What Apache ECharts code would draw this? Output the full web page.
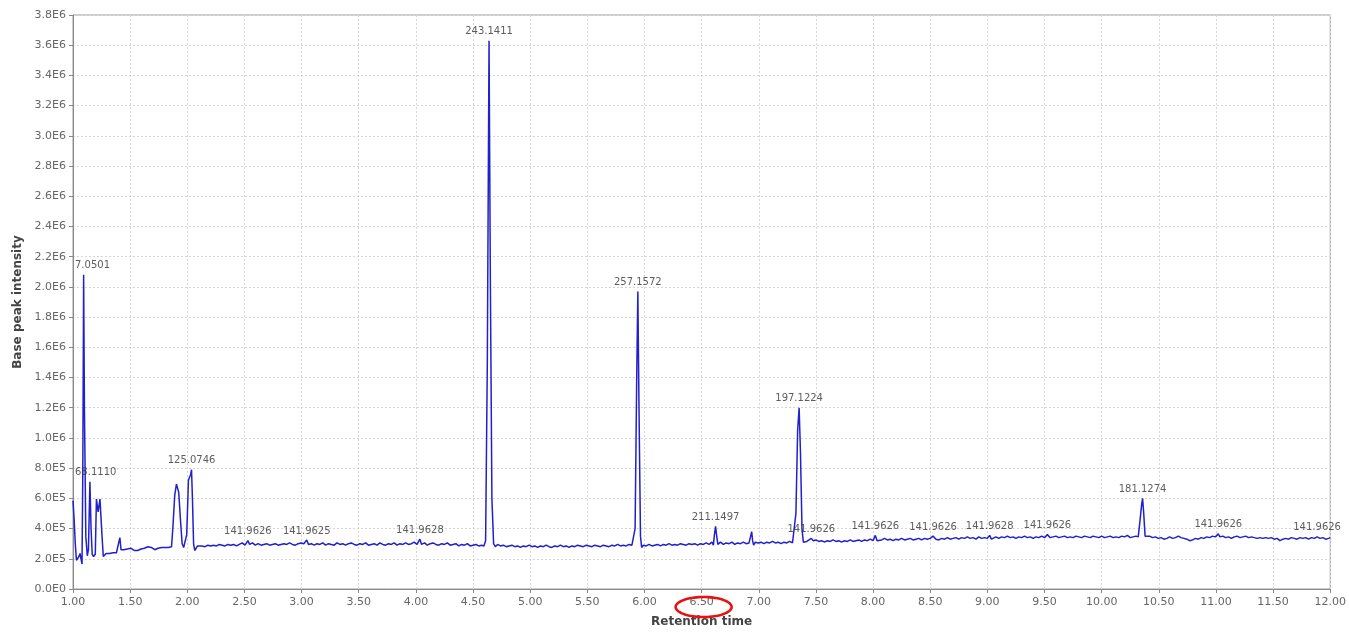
<!DOCTYPE html>
<html>
<head>
<meta charset="utf-8">
<script src="https://cdn.jsdelivr.net/npm/echarts@6/dist/echarts.min.js"></script>
<style>html,body{margin:0;padding:0;background:#fff;}#c{width:1349px;height:633px;}</style>
</head>
<body>
<div id="c"></div>
<script>
// Retention time (min) and base peak intensity (in units of 1E5)
const segEarly = [
[1.000,5.85],[1.010,4.6],[1.020,3.0],[1.030,1.9],[1.045,1.85],[1.055,2.2],[1.062,2.35],[1.070,2.0],[1.079,1.65],[1.086,8.0],
[1.093,20.8],[1.100,12.0],[1.112,3.5],[1.125,2.2],[1.135,2.6],[1.148,7.1],[1.158,4.0],[1.168,2.3],[1.180,2.15],[1.195,2.3],
[1.205,5.95],[1.212,6.0],[1.220,5.1],[1.228,5.0],[1.236,5.95],[1.244,6.0],[1.254,3.5],[1.265,2.15],[1.275,2.25],[1.290,2.35],
[1.305,2.4],[1.320,2.35],[1.335,2.45],[1.350,2.4],[1.365,2.45],[1.380,2.4],[1.395,2.5],[1.410,3.4],[1.420,2.6],[1.430,2.5],
[1.445,2.6],[1.460,2.55],[1.475,2.65],[1.490,2.55],[1.505,2.7],[1.520,2.6],[1.535,2.55],[1.550,2.6],[1.565,2.55],[1.580,2.6],
[1.595,2.65],[1.610,2.6],[1.625,2.7],[1.640,2.75],[1.655,2.8],[1.670,2.85],[1.685,2.75],[1.700,2.7],[1.715,2.6],[1.730,2.55],
[1.745,2.7],[1.760,2.65],[1.775,2.75],[1.790,2.7],[1.805,2.75],[1.820,2.65],[1.835,2.75],[1.850,2.7],[1.862,2.8],[1.875,4.2],
[1.890,6.2],[1.905,6.95],[1.915,6.95],[1.925,6.4],[1.940,4.6],[1.955,3.0],[1.968,2.75],[1.980,2.8],[1.995,3.6],[2.010,7.2],
[2.020,7.4],[2.030,7.6],[2.037,7.9],[2.045,6.0],[2.055,3.0],[2.065,2.55],[2.075,2.6],[2.090,2.85]
];
const segMid = [
[2.105,2.8],[2.130,2.85],[2.155,2.8],[2.180,2.9],[2.205,2.85],[2.230,2.9],[2.255,2.85],[2.280,2.95],[2.305,2.9],[2.330,2.85],
[2.355,2.95],[2.380,2.9],[2.405,2.95],[2.430,2.85],[2.455,2.95],[2.480,3.05],[2.505,2.9],[2.530,3.2],[2.545,2.95],[2.570,3.05],
[2.595,2.9],[2.620,3.0],[2.645,2.9],[2.670,2.95],[2.695,3.0],[2.720,2.9],[2.745,2.95],[2.770,3.0],[2.795,2.9],[2.820,2.95],
[2.845,3.0],[2.870,2.95],[2.895,3.05],[2.920,2.95],[2.945,2.9],[2.970,3.0],[2.995,3.05],[3.020,3.0],[3.045,3.25],[3.060,2.95],
[3.085,3.0],[3.110,2.9],[3.135,3.0],[3.160,2.95],[3.185,3.05],[3.210,2.9],[3.235,3.0],[3.260,2.95],[3.285,2.9],[3.310,3.05],
[3.335,2.95],[3.360,3.0],[3.385,2.9],[3.410,3.0],[3.435,3.05],[3.460,2.95],[3.485,2.9],[3.510,3.0],[3.535,2.95],[3.560,3.05],
[3.585,2.9],[3.610,2.95],[3.635,3.0],[3.660,2.9],[3.685,3.05],[3.710,2.95],[3.735,2.9],[3.760,3.0],[3.785,2.95],[3.810,3.05],
[3.835,2.9],[3.860,3.0],[3.885,2.95],[3.910,3.05],[3.935,2.95],[3.960,3.0],[3.985,3.1],[4.010,2.95],[4.035,3.3],[4.050,2.95],
[4.075,3.05],[4.100,2.9],[4.125,3.0],[4.150,3.05],[4.175,2.95],[4.200,2.9],[4.225,3.0],[4.250,2.95],[4.275,3.05],[4.300,2.9],
[4.325,2.95],[4.350,3.0],[4.375,2.85],[4.400,2.95],[4.425,2.9],[4.450,3.0],[4.475,2.85],[4.500,2.9],[4.525,2.95],[4.550,2.85],
[4.575,2.9],[4.595,2.85],[4.610,3.2],[4.625,15.0],[4.640,36.3],[4.652,20.0],[4.665,6.0],[4.680,3.0],[4.695,2.8],[4.715,2.95],
[4.740,2.85],[4.765,2.9],[4.790,2.8],[4.815,2.85],[4.840,2.9],[4.865,2.8],[4.890,2.85],[4.915,2.75],[4.940,2.85],[4.965,2.8],
[4.990,2.9],[5.015,2.8],[5.040,2.85],[5.065,2.75],[5.090,2.85],[5.115,2.8],[5.140,2.9],[5.165,2.8],[5.190,2.75],[5.215,2.85],
[5.240,2.8],[5.265,2.9],[5.290,2.8],[5.315,2.85],[5.340,2.75],[5.365,2.85],[5.390,2.8],[5.415,2.9],[5.440,2.85],[5.465,2.8],
[5.490,2.9],[5.515,2.85],[5.540,2.8],[5.565,2.9],[5.590,2.85],[5.615,2.8],[5.640,2.9],[5.665,2.85],[5.690,2.8],[5.715,2.9],
[5.740,2.85],[5.765,2.95],[5.790,2.85],[5.815,2.9],[5.840,2.85],[5.865,2.95],[5.890,2.9],[5.905,2.95],[5.918,4.0],[5.932,14.0],
[5.942,19.7],[5.952,12.0],[5.965,3.5],[5.975,2.75],[5.990,2.9],[6.015,2.85],[6.040,2.95],[6.065,2.85],[6.090,2.9],[6.115,2.95],
[6.140,2.85],[6.165,2.95],[6.190,2.9],[6.215,3.0],[6.240,2.9],[6.265,2.95],[6.290,2.9],[6.315,3.0],[6.340,2.95],[6.365,2.9],
[6.390,3.0],[6.415,2.95],[6.440,3.0],[6.465,2.9],[6.490,3.0],[6.515,2.95],[6.540,3.05],[6.565,2.95],[6.590,3.1],[6.603,2.9],
[6.612,3.6],[6.622,4.15],[6.632,3.5],[6.642,2.95],[6.665,3.1],[6.690,2.95],[6.715,3.05],[6.740,3.0],[6.765,3.1],[6.790,2.95],
[6.815,3.05],[6.840,3.0],[6.865,3.1],[6.890,3.0],[6.915,3.05],[6.930,3.1],[6.938,3.8],[6.946,3.2],[6.955,2.9],[6.970,3.1],
[6.995,3.05],[7.020,3.1],[7.045,3.0],[7.070,3.1],[7.095,3.05],[7.120,3.15],[7.145,3.05],[7.170,3.1],[7.195,3.0],[7.220,3.1],
[7.245,3.05],[7.270,3.15],[7.295,3.05],[7.310,3.15],[7.325,5.0],[7.340,10.5],[7.353,12.0],[7.365,9.0],[7.378,4.0],[7.390,3.1],
[7.405,3.2],[7.420,3.15],[7.440,3.25],[7.460,3.35],[7.475,3.2],[7.500,3.25],[7.525,3.15],[7.550,3.2],[7.575,3.1],[7.600,3.2],
[7.625,3.15],[7.650,3.25],[7.675,3.15],[7.700,3.2],[7.725,3.1],[7.750,3.2],[7.775,3.15],[7.800,3.25],[7.825,3.15],[7.850,3.2],
[7.875,3.25],[7.900,3.15],[7.925,3.25],[7.950,3.2],[7.975,3.3],[8.000,3.2]
];
const segLate = [
[8.020,3.55],[8.035,3.2],[8.050,3.3],[8.075,3.25],[8.100,3.35],[8.125,3.25],[8.150,3.3],[8.175,3.2],[8.200,3.3],[8.225,3.25],
[8.250,3.35],[8.275,3.25],[8.300,3.3],[8.325,3.35],[8.350,3.25],[8.375,3.3],[8.400,3.35],[8.425,3.25],[8.450,3.35],[8.475,3.3],
[8.500,3.35],[8.525,3.5],[8.550,3.3],[8.575,3.25],[8.600,3.35],[8.625,3.3],[8.650,3.4],[8.675,3.3],[8.700,3.35],[8.725,3.4],
[8.750,3.3],[8.775,3.4],[8.800,3.35],[8.825,3.45],[8.850,3.35],[8.875,3.4],[8.900,3.3],[8.925,3.45],[8.950,3.35],[8.975,3.4],
[9.000,3.35],[9.020,3.55],[9.035,3.3],[9.050,3.4],[9.075,3.45],[9.100,3.35],[9.125,3.45],[9.150,3.4],[9.175,3.5],[9.200,3.4],
[9.225,3.45],[9.250,3.35],[9.275,3.45],[9.300,3.4],[9.325,3.5],[9.350,3.4],[9.375,3.45],[9.400,3.35],[9.425,3.45],[9.450,3.4],
[9.475,3.5],[9.500,3.4],[9.525,3.6],[9.550,3.4],[9.575,3.45],[9.600,3.5],[9.625,3.4],[9.650,3.45],[9.675,3.5],[9.700,3.4],
[9.725,3.45],[9.750,3.4],[9.775,3.5],[9.800,3.45],[9.825,3.4],[9.850,3.5],[9.875,3.45],[9.900,3.4],[9.925,3.5],[9.950,3.45],
[9.975,3.4],[10.000,3.5],[10.025,3.4],[10.050,3.45],[10.075,3.5],[10.100,3.4],[10.125,3.45],[10.150,3.4],[10.175,3.5],[10.200,3.45],
[10.225,3.55],[10.250,3.4],[10.275,3.45],[10.300,3.5],[10.320,3.45],[10.335,4.5],[10.350,5.6],[10.358,6.0],[10.368,5.0],[10.380,3.5],
[10.395,3.45],[10.420,3.5],[10.445,3.4],[10.470,3.45],[10.495,3.35],[10.520,3.4],[10.545,3.3],[10.570,3.35],[10.595,3.45],[10.620,3.35],
[10.645,3.4],[10.670,3.5],[10.695,3.4],[10.720,3.35],[10.745,3.3],[10.770,3.2],[10.795,3.25],[10.820,3.35],[10.845,3.3],[10.870,3.4],
[10.895,3.35],[10.920,3.45],[10.945,3.4],[10.970,3.5],[10.995,3.45],[11.020,3.65],[11.035,3.45],[11.060,3.5],[11.085,3.4],[11.110,3.45],
[11.135,3.35],[11.160,3.45],[11.185,3.5],[11.210,3.4],[11.235,3.45],[11.260,3.5],[11.285,3.4],[11.310,3.45],[11.335,3.4],[11.360,3.35],
[11.385,3.4],[11.410,3.35],[11.435,3.4],[11.460,3.35],[11.485,3.4],[11.510,3.3],[11.535,3.35],[11.560,3.2],[11.585,3.3],[11.610,3.35],
[11.635,3.3],[11.660,3.4],[11.685,3.35],[11.710,3.3],[11.735,3.4],[11.760,3.35],[11.785,3.4],[11.810,3.3],[11.835,3.4],[11.860,3.35],
[11.885,3.45],[11.910,3.35],[11.935,3.4],[11.960,3.3],[11.985,3.35],[12.000,3.4]
];
// Peak annotations: [retention time, intensity (1E5), m/z text]
const peakLabels = [
[1.093,20.8,'7.0501'],[1.148,7.1,'68.1110'],[2.037,7.9,'125.0746'],[2.530,3.2,'141.9626'],[3.045,3.25,'141.9625'],
[4.035,3.3,'141.9628'],[4.640,36.3,'243.1411'],[5.942,19.7,'257.1572'],[6.622,4.15,'211.1497'],[7.353,12.0,'197.1224'],
[7.460,3.35,'141.9626'],[8.020,3.55,'141.9626'],[8.525,3.5,'141.9626'],[9.020,3.55,'141.9628'],[9.525,3.6,'141.9626'],
[10.358,6.0,'181.1274'],[11.020,3.65,'141.9626'],[11.885,3.45,'141.9626']
];
const xMin = 1, xMax = 12, xStep = 0.5;
const yMin = 0, yMax = 3.8e6, yStep = 2e5;
const xTitle = 'Retention time';
const yTitle = 'Base peak intensity';
const highlightTick = 6.5;

const UNIT = 1e5;
const trace = segEarly.concat(segMid, segLate).map(p => [p[0], p[1] * UNIT]);
const labelData = peakLabels.map(p => ({ value: [p[0], p[1] * UNIT], name: p[2] }));

const GRID = { left: 73, right: 17, top: 15, bottom: 43 };
const FONT = 'DejaVu Sans';

const chart = echarts.init(document.getElementById('c'), null, { renderer: 'canvas' });
chart.setOption({
  animation: false,
  backgroundColor: '#ffffff',
  grid: { left: GRID.left, right: GRID.right, top: GRID.top, bottom: GRID.bottom, show: true, borderColor: '#9a9a9a', borderWidth: 1 },
  xAxis: {
    type: 'value', min: xMin, max: xMax, interval: xStep,
    name: xTitle, nameLocation: 'middle', nameGap: 27,
    nameTextStyle: { fontFamily: FONT, fontSize: 12, fontWeight: 'bold', color: '#444' },
    axisLine: { show: true, lineStyle: { color: '#8a8a8a' } },
    axisTick: { show: true, length: 4, lineStyle: { color: '#8a8a8a' } },
    axisLabel: { fontFamily: FONT, fontSize: 11, color: '#666', margin: 8, formatter: v => v.toFixed(2) },
    splitLine: { show: true, lineStyle: { color: '#d6d6d6', type: [2, 2] } }
  },
  yAxis: {
    type: 'value', min: yMin, max: yMax, interval: yStep,
    name: yTitle, nameLocation: 'middle', nameGap: 49,
    nameTextStyle: { fontFamily: FONT, fontSize: 12, fontWeight: 'bold', color: '#444' },
    axisLine: { show: true, lineStyle: { color: '#8a8a8a' } },
    axisTick: { show: true, length: 4, lineStyle: { color: '#8a8a8a' } },
    axisLabel: { fontFamily: FONT, fontSize: 11, color: '#666', margin: 7,
      formatter: v => v.toExponential(1).replace('e+', 'E').replace('e-', 'E-') },
    splitLine: { show: true, lineStyle: { color: '#d6d6d6', type: [2, 2] } }
  },
  series: [
    {
      type: 'line', data: trace, showSymbol: false, symbol: 'none',
      lineStyle: { color: '#2020cc', width: 1.5 }, z: 3
    },
    {
      type: 'scatter', data: labelData, symbolSize: 0, silent: true, z: 4,
      label: { show: true, position: 'top', distance: 4, formatter: p => p.name,
        fontFamily: FONT, fontSize: 10, color: '#333' },
      labelLayout: function (params) {
        const r = params.labelRect;
        if (r.x < GRID.left) {
          return { x: GRID.left + 2, y: r.y + r.height / 2, align: 'left', verticalAlign: 'middle' };
        }
        return {};
      }
    }
  ]
});

const px = chart.convertToPixel({ xAxisIndex: 0 }, highlightTick);
const cy = 633 - GRID.bottom + 17;
const pts = [];
for (let i = 0; i < 72; i++) {
  const a = i / 72 * Math.PI * 2;
  pts.push([px + 2 + 28 * Math.cos(a), cy + 10 * Math.sin(a)]);
}
chart.setOption({
  graphic: [{ type: 'polygon', shape: { points: pts }, style: { fill: 'none', stroke: '#e81212', lineWidth: 2.6 }, z: 100 }]
});
</script>
</body>
</html>
